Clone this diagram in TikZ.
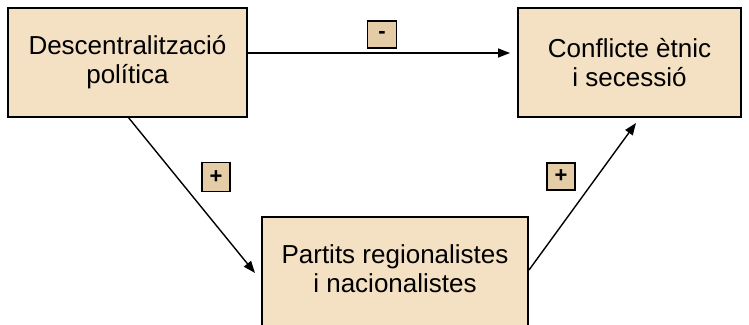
\documentclass[tikz,border=0pt]{standalone}
\usepackage{fontspec}
\setmainfont{Liberation Sans}
\usetikzlibrary{arrows.meta}
\definecolor{boxfill}{HTML}{F4E0C2}
\definecolor{signfill}{HTML}{E3CCA6}
\begin{document}
\begin{tikzpicture}[x=1pt,y=-1pt,
  concept/.style={draw=black, line width=1.6pt, fill=boxfill, inner sep=0pt,
    align=center, font=\fontsize{26}{29}\selectfont},
  sign/.style={draw=black, line width=1.6pt, fill=signfill, inner sep=0pt,
    font=\fontsize{22}{24}\selectfont\bfseries},
  conn/.style={line width=1.4pt, -{Triangle[length=12pt,width=9pt]}}]
\useasboundingbox (0,0) rectangle (749,324);
\node[concept, minimum width=239pt, minimum height=109pt] (dec) at (127.5,62.5) {Descentralització\\política};
\node[concept, minimum width=223pt, minimum height=109pt] (con) at (629.5,62.5) {Conflicte ètnic\\i secessió};
\node[concept, minimum width=266pt, minimum height=130pt, text depth=0pt] (par) at (395,282) {};
\node[font=\fontsize{26}{29}\selectfont, align=center] (partxt) at (395,269) {Partits regionalistes\\i nacionalistes};
\coordinate (a1) at (510,53);
\coordinate (b1) at (128,117);
\coordinate (b2) at (255,273);
\coordinate (c1) at (529,270);
\coordinate (c2) at (636,123);
\draw[conn] (dec.east |- a1) -- (a1);
\draw[conn] (b1) -- (b2);
\draw[conn] (c1) -- (c2);
\node[sign, minimum width=29pt, minimum height=27pt] (minus) at (382,34.5) {-};
\node[sign, minimum width=28pt, minimum height=29pt] (plusl) at (216,177) {+};
\node[sign, minimum width=28pt, minimum height=27pt] (plusr) at (561,176.5) {+};
\end{tikzpicture}
\end{document}
